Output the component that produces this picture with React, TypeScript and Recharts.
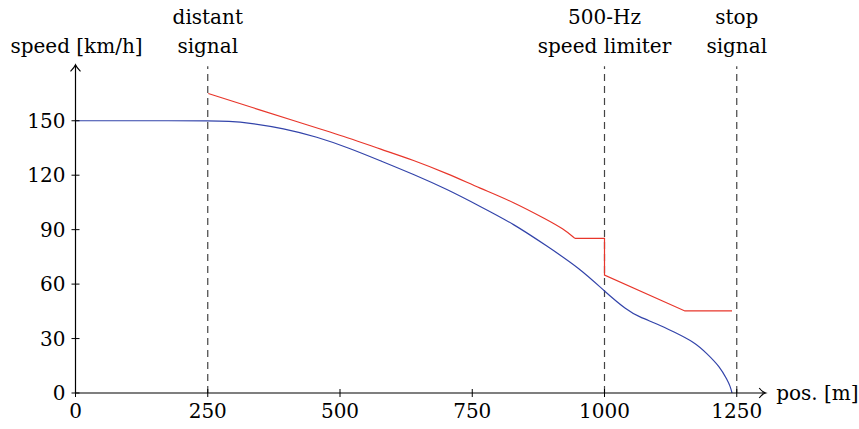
import React from 'react';
import { LineChart, Line, XAxis, YAxis, ReferenceLine, ReferenceDot } from 'recharts';

const xTicks = [0, 250, 500, 750, 1000, 1250];
const yTicks = [0, 30, 60, 90, 120, 150];

const bluePos = [0, 200, 250, 290, 330, 393, 456, 519, 576, 639, 702, 765, 828, 891, 954, 1001, 1042, 1067, 1099, 1130, 1170, 1193, 1218, 1232, 1238, 1241];
const blueSpeed = [150, 150, 150, 149.8, 148.8, 145.8, 141.2, 134.8, 128, 120.5, 112.3, 102.8, 93.2, 81, 68.5, 55.8, 45.7, 41.7, 38.2, 33.8, 28, 21.9, 14.5, 7.2, 3.5, 0];

const redCurvePos = [251, 349, 432, 519, 576, 639, 702, 765, 828, 891, 922, 944];
const redCurveSpeed = [165, 155.9, 148.3, 140.3, 134.4, 128.3, 121, 112.8, 105.2, 95.5, 90.5, 85.2];

const redTailPos = [944, 1000, 1000, 1152, 1241];
const redTailSpeed = [85.2, 85.2, 65, 45.2, 45.2];

const markerPos = [250, 1000, 1250];
const markerLabels = [['distant', 'signal'], ['500-Hz', 'speed limiter'], ['stop', 'signal']];

const xAxisLabel = 'pos. [m]';
const yAxisLabel = 'speed [km/h]';

const zip = (xs: number[], ys: number[]) => xs.map((x, i) => ({ x, v: ys[i] }));
const blueData = zip(bluePos, blueSpeed);
const redCurveData = zip(redCurvePos, redCurveSpeed);
const redTailData = zip(redTailPos, redTailSpeed);

const FONT = '"DejaVu Serif", serif';
const FS = 20;

const XTick = (props: any) => {
  const { x, y, payload } = props;
  return (
    <g>
      <line x1={x} x2={x} y1={y - 4} y2={y + 4} stroke="#000" strokeWidth={1} />
      <text x={x} y={y + 25} textAnchor="middle" fontFamily={FONT} fontSize={FS} fill="#000">
        {payload.value}
      </text>
    </g>
  );
};

const YTick = (props: any) => {
  const { x, y, payload } = props;
  return (
    <g>
      <line x1={x - 4} x2={x + 4} y1={y} y2={y} stroke="#000" strokeWidth={1} />
      <text x={x - 10} y={y} dy="0.36em" textAnchor="end" fontFamily={FONT} fontSize={FS} fill="#000">
        {payload.value}
      </text>
    </g>
  );
};

const MarkerLabel = (lines: string[]) => (props: any) => {
  const vb = props.viewBox || {};
  const x = vb.x;
  const y = vb.y;
  return (
    <g>
      <text x={x} y={y - 42} textAnchor="middle" fontFamily={FONT} fontSize={FS} fill="#000">{lines[0]}</text>
      <text x={x} y={y - 13} textAnchor="middle" fontFamily={FONT} fontSize={FS} fill="#000">{lines[1]}</text>
    </g>
  );
};

const XArrow = (props: any) => {
  const { cx, cy } = props;
  return (
    <g>
      <line x1={cx - 1} x2={cx + 2} y1={cy} y2={cy} stroke="#000" strokeWidth={1.2} />
      <path d={`M ${cx - 4} ${cy - 5} Q ${cx - 1} ${cy - 1} ${cx + 2.5} ${cy} Q ${cx - 1} ${cy + 1} ${cx - 4} ${cy + 5}`} fill="none" stroke="#000" strokeWidth={1.1} />
      <text x={cx + 13} y={cy} dy="0.36em" textAnchor="start" fontFamily={FONT} fontSize={FS} fill="#000">{xAxisLabel}</text>
    </g>
  );
};

const YArrow = (props: any) => {
  const { cx, cy } = props;
  return (
    <g>
      <line x1={cx} x2={cx} y1={cy + 1} y2={cy - 1} stroke="#000" strokeWidth={1.2} />
      <path d={`M ${cx - 5} ${cy + 5} Q ${cx - 1} ${cy + 1} ${cx} ${cy - 1.5} Q ${cx + 1} ${cy + 1} ${cx + 5} ${cy + 5}`} fill="none" stroke="#000" strokeWidth={1.1} />
      <text x={cx + 1} y={cy - 13} textAnchor="middle" fontFamily={FONT} fontSize={FS} fill="#000">{yAxisLabel}</text>
    </g>
  );
};

export default function App() {
  return (
    <div style={{ position: 'absolute', left: 0, top: 0, width: 859, height: 429, background: '#fff' }}>
      <LineChart width={859} height={429} margin={{ top: 66.3, right: 95.8, bottom: 6, left: 35.5 }}>
        <XAxis
          type="number"
          dataKey="x"
          domain={[0, 1300]}
          ticks={xTicks}
          allowDataOverflow
          height={30}
          tickLine={false}
          tickSize={0}
          tickMargin={0}
          axisLine={{ stroke: '#000', strokeWidth: 1.2 }}
          tick={<XTick />}
        />
        <YAxis
          type="number"
          dataKey="v"
          domain={[0, 180]}
          ticks={yTicks}
          allowDataOverflow
          width={40}
          tickLine={false}
          tickSize={0}
          tickMargin={0}
          axisLine={{ stroke: '#000', strokeWidth: 1.2 }}
          tick={<YTick />}
        />
        {markerPos.map((p, i) => (
          <ReferenceLine
            key={p}
            x={p}
            stroke="#444"
            strokeWidth={1.2}
            strokeDasharray="7 5"
            label={MarkerLabel(markerLabels[i])}
          />
        ))}
        <Line data={blueData} dataKey="v" type="basis" stroke="#3344aa" strokeWidth={1.2} dot={false} isAnimationActive={false} />
        <Line data={redCurveData} dataKey="v" type="basis" stroke="#e8362b" strokeWidth={1.2} dot={false} isAnimationActive={false} />
        <Line data={redTailData} dataKey="v" type="linear" stroke="#e8362b" strokeWidth={1.2} dot={false} isAnimationActive={false} />
        <ReferenceDot x={1300} y={0} r={0} shape={<XArrow />} ifOverflow="visible" />
        <ReferenceDot x={0} y={180} r={0} shape={<YArrow />} ifOverflow="visible" />
      </LineChart>
    </div>
  );
}
